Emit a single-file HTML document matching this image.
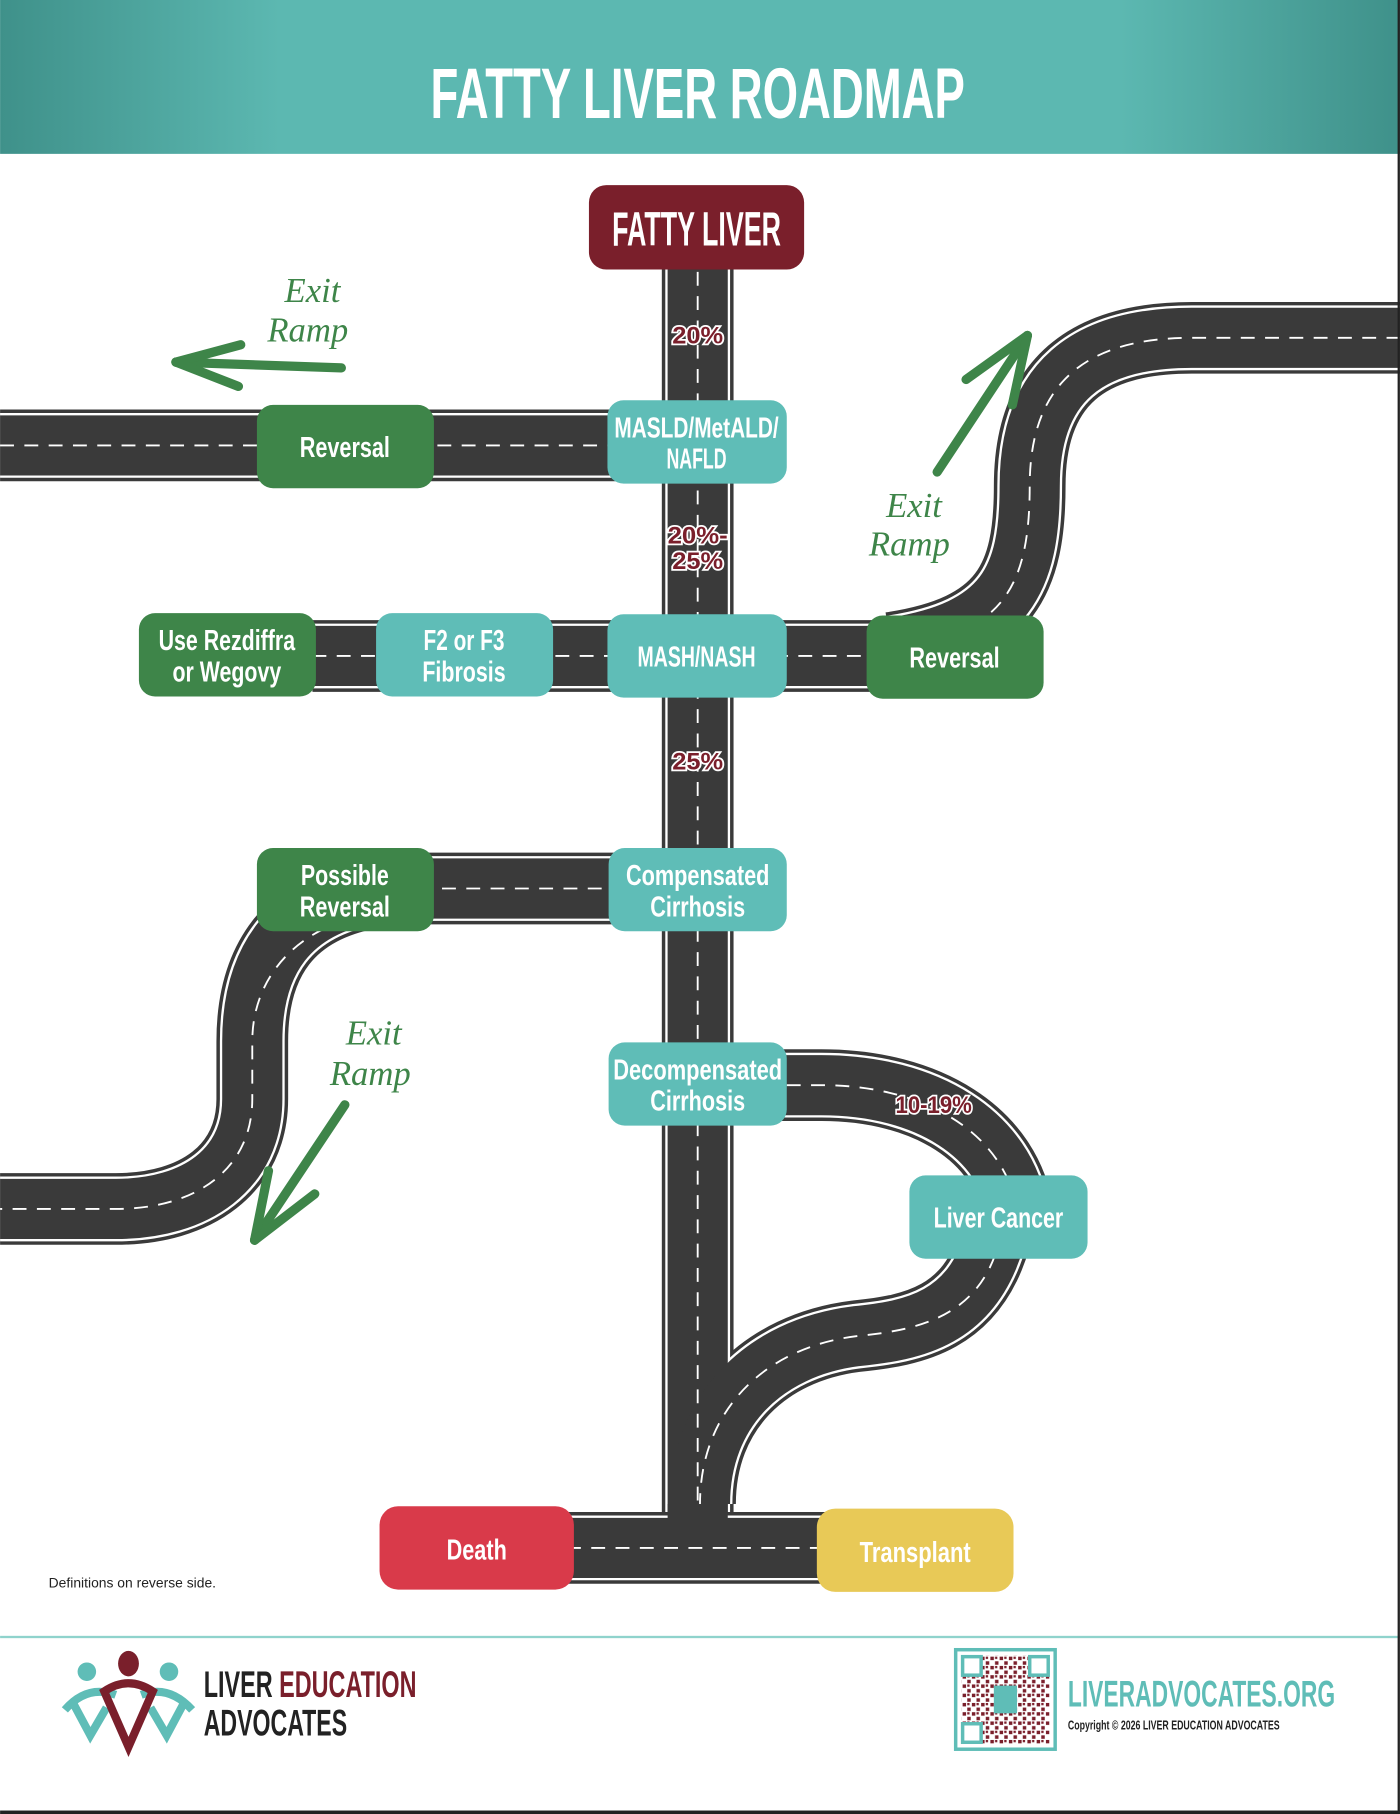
<!DOCTYPE html>
<html><head><meta charset="utf-8"><style>
html,body{margin:0;padding:0;background:#fff;}
svg{display:block;}
.c{font-family:"Liberation Sans Narrow","Liberation Sans",sans-serif;font-weight:bold;}
.n{fill:#fff;font-size:25px;text-anchor:middle;}
.p{fill:#7a1f2b;font-size:21px;text-anchor:middle;stroke:#fff;stroke-width:3;paint-order:stroke;}
.ex{fill:#3e8549;font-family:"Liberation Serif",serif;font-style:italic;font-size:30px;text-anchor:middle;}
</style></head><body>
<svg width="1400" height="1814" viewBox="0 0 1210 1568" xmlns="http://www.w3.org/2000/svg">
<defs>
<linearGradient id="hg" x1="0" x2="1" y1="0" y2="0">
<stop offset="0" stop-color="#3f918a"/><stop offset="0.2" stop-color="#5cb8b1"/><stop offset="0.8" stop-color="#5cb8b1"/><stop offset="1" stop-color="#3f918a"/>
</linearGradient>
<pattern id="qr" width="8" height="8" patternUnits="userSpaceOnUse">
<rect x="0" y="0" width="3" height="3" fill="#7a1f2b"/><rect x="4" y="4" width="3" height="3" fill="#7a1f2b"/><rect x="4" y="0" width="2" height="2" fill="#7a1f2b"/>
</pattern>
</defs>
<rect width="1210" height="1568" fill="#fff"/>
<rect x="0" y="0" width="1210" height="133" fill="url(#hg)"/>
<text x="603" y="102" class="c" fill="#fff" font-size="62" text-anchor="middle" textLength="462" lengthAdjust="spacingAndGlyphs">FATTY LIVER ROADMAP</text>

<g fill="none" stroke-linecap="butt">
<g stroke="#3a3a3a" stroke-width="62">
<path d="M603 225 V1310"/>
<path d="M0 385 H603"/>
<path d="M270 567 H790"/>
<path d="M770 560 C870 545 890 500 890 420 C890 330 940 292 1030 292 H1210"/>
<path d="M300 768 H603"/>
<path d="M320 772 C250 785 218 830 218 900 V950 C218 1010 170 1045 100 1045 H0"/>
<path d="M603 938 H710 C800 938 870 980 880 1050"/>
<path d="M860 1070 C840 1140 790 1150 740 1155 C660 1165 605 1220 605 1300"/>
<path d="M480 1338 H730"/>
</g>
<g stroke="#fff" stroke-width="56">
<path d="M603 225 V1307"/>
<path d="M0 385 H603"/>
<path d="M270 567 H790"/>
<path d="M770 560 C870 545 890 500 890 420 C890 330 940 292 1030 292 H1210"/>
<path d="M300 768 H603"/>
<path d="M320 772 C250 785 218 830 218 900 V950 C218 1010 170 1045 100 1045 H0"/>
<path d="M603 938 H710 C800 938 870 980 880 1050"/>
<path d="M860 1070 C840 1140 790 1150 740 1155 C660 1165 605 1220 605 1300"/>
<path d="M480 1338 H730"/>
</g>
<g stroke="#3a3a3a" stroke-width="52">
<path d="M603 225 V1310"/>
<path d="M0 385 H603"/>
<path d="M270 567 H790"/>
<path d="M770 560 C870 545 890 500 890 420 C890 330 940 292 1030 292 H1210"/>
<path d="M300 768 H603"/>
<path d="M320 772 C250 785 218 830 218 900 V950 C218 1010 170 1045 100 1045 H0"/>
<path d="M603 938 H710 C800 938 870 980 880 1050"/>
<path d="M860 1070 C840 1140 790 1150 740 1155 C660 1165 605 1220 605 1300"/>
<path d="M480 1338 H730"/>
<path d="M603 1300 V1345"/>
</g>
<g stroke="#fff" stroke-width="1.6" stroke-dasharray="12 9">
<path d="M603 235 V1300"/>
<path d="M0 385 H540"/>
<path d="M270 567 H790"/>
<path d="M800 555 C870 540 890 500 890 420 C890 330 940 292 1030 292 H1210"/>
<path d="M340 768 H540"/>
<path d="M300 795 C250 810 218 850 218 900 V950 C218 1010 170 1045 100 1045 H0"/>
<path d="M680 938 H710 C800 938 870 980 880 1050"/>
<path d="M860 1085 C840 1140 790 1150 740 1155 C660 1165 605 1220 605 1300"/>
<path d="M490 1338 H720"/>
</g>
</g>

<text x="603" y="297" class="c p" textLength="44" lengthAdjust="spacingAndGlyphs">20%</text>
<text x="603" y="470" class="c p" textLength="52" lengthAdjust="spacingAndGlyphs">20%-</text>
<text x="603" y="492" class="c p" textLength="44" lengthAdjust="spacingAndGlyphs">25%</text>
<text x="603" y="665" class="c p" textLength="44" lengthAdjust="spacingAndGlyphs">25%</text>
<text x="807" y="962" class="c p" textLength="66" lengthAdjust="spacingAndGlyphs">10-19%</text>

<rect x="509" y="160" width="186" height="73" rx="15" fill="#7a1f2b"/>
<text x="602" y="212" class="c n" style="font-size:42px" textLength="146" lengthAdjust="spacingAndGlyphs">FATTY LIVER</text>

<rect x="525" y="346" width="155" height="72" rx="14" fill="#5fbdb7"/>
<text x="602" y="378" class="c n" textLength="142" lengthAdjust="spacingAndGlyphs">MASLD/MetALD/</text>
<text x="602" y="405" class="c n" textLength="52" lengthAdjust="spacingAndGlyphs">NAFLD</text>

<rect x="222" y="350" width="153" height="72" rx="14" fill="#3e8549"/>
<text x="298" y="395" class="c n" textLength="78" lengthAdjust="spacingAndGlyphs">Reversal</text>

<rect x="120" y="530" width="153" height="72" rx="14" fill="#3e8549"/>
<text x="196" y="562" class="c n" textLength="118" lengthAdjust="spacingAndGlyphs">Use Rezdiffra</text>
<text x="196" y="589" class="c n" textLength="94" lengthAdjust="spacingAndGlyphs">or Wegovy</text>

<rect x="325" y="530" width="153" height="72" rx="14" fill="#5fbdb7"/>
<text x="401" y="562" class="c n" textLength="70" lengthAdjust="spacingAndGlyphs">F2 or F3</text>
<text x="401" y="589" class="c n" textLength="72" lengthAdjust="spacingAndGlyphs">Fibrosis</text>

<rect x="525" y="531" width="155" height="72" rx="14" fill="#5fbdb7"/>
<text x="602" y="576" class="c n" textLength="102" lengthAdjust="spacingAndGlyphs">MASH/NASH</text>

<rect x="749" y="532" width="153" height="72" rx="14" fill="#3e8549"/>
<text x="825" y="577" class="c n" textLength="78" lengthAdjust="spacingAndGlyphs">Reversal</text>

<rect x="222" y="733" width="153" height="72" rx="14" fill="#3e8549"/>
<text x="298" y="765" class="c n" textLength="76" lengthAdjust="spacingAndGlyphs">Possible</text>
<text x="298" y="792" class="c n" textLength="78" lengthAdjust="spacingAndGlyphs">Reversal</text>

<rect x="526" y="733" width="154" height="72" rx="14" fill="#5fbdb7"/>
<text x="603" y="765" class="c n" textLength="124" lengthAdjust="spacingAndGlyphs">Compensated</text>
<text x="603" y="792" class="c n" textLength="82" lengthAdjust="spacingAndGlyphs">Cirrhosis</text>

<rect x="526" y="901" width="154" height="72" rx="14" fill="#5fbdb7"/>
<text x="603" y="933" class="c n" textLength="146" lengthAdjust="spacingAndGlyphs">Decompensated</text>
<text x="603" y="960" class="c n" textLength="82" lengthAdjust="spacingAndGlyphs">Cirrhosis</text>

<rect x="786" y="1016" width="154" height="72" rx="14" fill="#5fbdb7"/>
<text x="863" y="1061" class="c n" textLength="112" lengthAdjust="spacingAndGlyphs">Liver Cancer</text>

<rect x="328" y="1302" width="168" height="72" rx="16" fill="#d93a4a"/>
<text x="412" y="1348" class="c n" textLength="52" lengthAdjust="spacingAndGlyphs">Death</text>

<rect x="706" y="1304" width="170" height="72" rx="16" fill="#e8c957"/>
<text x="791" y="1350" class="c n" textLength="96" lengthAdjust="spacingAndGlyphs">Transplant</text>

<text x="270" y="261" class="ex">Exit</text>
<text x="266" y="295" class="ex">Ramp</text>
<g stroke="#3e8549" stroke-width="8" stroke-linecap="round" fill="none">
<path d="M295 318 L152 313"/><path d="M152 313 L208 298"/><path d="M152 313 L206 334"/>
<path d="M810 408 L888 290"/><path d="M888 290 L835 328"/><path d="M888 290 L875 350"/>
<path d="M298 955 L220 1072"/><path d="M220 1072 L232 1012"/><path d="M220 1072 L272 1032"/>
</g>
<text x="790" y="447" class="ex">Exit</text>
<text x="786" y="480" class="ex">Ramp</text>
<text x="323" y="903" class="ex">Exit</text>
<text x="320" y="938" class="ex">Ramp</text>

<text x="42" y="1372" font-family="Liberation Sans,sans-serif" font-size="12" fill="#222">Definitions on reverse side.</text>

<rect x="0" y="1414" width="1210" height="2" fill="#8fd3cc"/>
<g>
<circle cx="75" cy="1445" r="8" fill="#5fbdb7"/><circle cx="146" cy="1445" r="8" fill="#5fbdb7"/>
<ellipse cx="111" cy="1438" rx="9" ry="11" fill="#7a1f2b"/>
<path d="M56 1478 Q75 1456 100 1465 M166 1478 Q146 1456 122 1465" stroke="#5fbdb7" stroke-width="7" fill="none"/>
<path d="M62 1470 L78 1500 L92 1476 M160 1470 L144 1500 L130 1476" stroke="#5fbdb7" stroke-width="7" fill="none"/>
<path d="M90 1462 Q111 1448 132 1462 L111 1510 Z" stroke="#7a1f2b" stroke-width="7" fill="none"/>
</g>
<text x="176" y="1467" class="c" font-size="32" fill="#222" textLength="184" lengthAdjust="spacingAndGlyphs">LIVER <tspan fill="#7a1f2b">EDUCATION</tspan></text>
<text x="176" y="1500" class="c" font-size="32" fill="#222" textLength="124" lengthAdjust="spacingAndGlyphs">ADVOCATES</text>

<rect x="826" y="1426" width="86" height="86" fill="#fff" stroke="#5fbdb7" stroke-width="3"/>
<rect x="831" y="1431" width="76" height="76" fill="url(#qr)"/>
<rect x="832" y="1432" width="16" height="16" fill="#fff" stroke="#5fbdb7" stroke-width="3"/>
<rect x="890" y="1432" width="16" height="16" fill="#fff" stroke="#5fbdb7" stroke-width="3"/>
<rect x="832" y="1490" width="16" height="16" fill="#fff" stroke="#5fbdb7" stroke-width="3"/>
<rect x="859" y="1457" width="20" height="24" fill="#5fbdb7"/>
<text x="923" y="1475" class="c" font-size="32" fill="#5fbdb7" textLength="231" lengthAdjust="spacingAndGlyphs">LIVERADVOCATES.ORG</text>
<text x="923" y="1495" class="c" font-size="11" fill="#222" textLength="183" lengthAdjust="spacingAndGlyphs">Copyright © 2026 LIVER EDUCATION ADVOCATES</text>

<rect x="1208" y="0" width="2" height="1568" fill="#222"/>
<rect x="0" y="1565" width="1210" height="3" fill="#222"/>
</svg>
</body></html>
